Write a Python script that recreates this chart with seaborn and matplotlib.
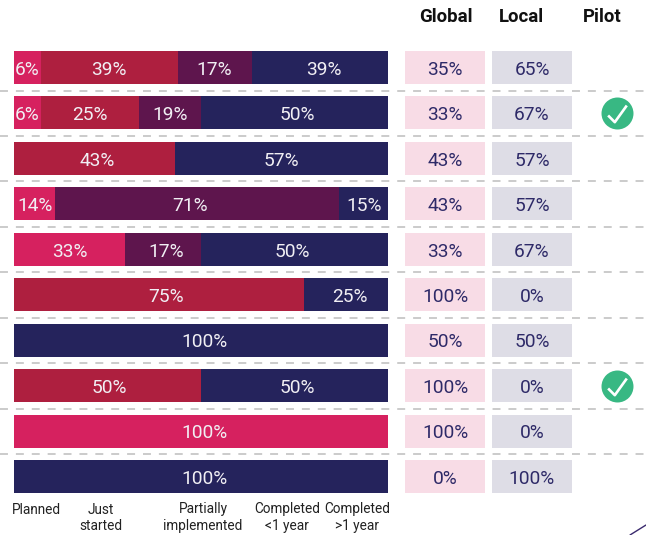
import numpy as np
import pandas as pd
import seaborn as sns
import matplotlib.pyplot as plt
from matplotlib.path import Path

sns.set_theme(style="white")
plt.rcParams["font.family"] = ["Roboto", "DejaVu Sans"]

rows = ["r1", "r2", "r3", "r4", "r5", "r6", "r7", "r8", "r9", "r10"]

# drawn bar lengths (the printed labels don't quite add up to these in the original)
planned = [7.2, 7.2, 0, 11, 29.7, 0, 0, 0, 100, 0]
just_started = [36.6, 26.2, 43, 0, 0, 77.5, 0, 50, 0, 0]
partially = [19.8, 16.6, 0, 76, 20.3, 0, 0, 0, 0, 0]
completed = [36.4, 50, 57, 13.4, 50, 22.5, 100, 50, 0, 100]

planned_lab = ["6%", "6%", "", "14%", "33%", "", "", "", "100%", ""]
just_started_lab = ["39%", "25%", "43%", "", "", "75%", "", "50%", "", ""]
partially_lab = ["17%", "19%", "", "71%", "17%", "", "", "", "", ""]
completed_lab = ["39%", "50%", "57%", "15%", "50%", "25%", "100%", "50%", "", "100%"]

global_lab = ["35%", "33%", "43%", "43%", "33%", "100%", "50%", "100%", "100%", "0%"]
local_lab = ["65%", "67%", "57%", "57%", "67%", "0%", "50%", "0%", "0%", "100%"]
pilot_rows = [1, 7]

stage_names = ["Planned", "Just\nstarted", "Partially\nimplemented", "Completed\n<1 year", "Completed\n>1 year"]
stage_x = [36.5, 101, 203, 287, 357]
headers = ["Global", "Local", "Pilot"]
header_x = [445.5, 521.7, 601.8]

W, H = 646, 535
ROW_TOP, ROW_BOTTOM = 51, 493
PAD = 0.363
BAR_W = 0.726
TEXT_DY = 0.05

# labels sit a little off centre in the original, in px: (row, stage) -> shift
NUDGE = {(0, "partial"): -1, (0, "done"): 4, (1, "done"): 2.5, (2, "just"): 2.5,
         (3, "partial"): -7, (4, "partial"): 3, (4, "done"): -2.5, (5, "just"): 7,
         (5, "done"): 4, (6, "done"): 3.5, (7, "just"): 1.5, (7, "done"): 2.5,
         (8, "planned"): 3.5, (9, "done"): 3.5}


def px_axes(x0, x1):
    a = fig.add_axes([x0 / W, 1 - ROW_BOTTOM / H, (x1 - x0) / W, (ROW_BOTTOM - ROW_TOP) / H])
    a.patch.set_alpha(0)
    return a


def finish(a, xlim):
    a.set_xlim(*xlim)
    a.set_ylim(9 + PAD, -PAD)
    a.axis("off")


fig = plt.figure(figsize=(W / 100, H / 100), dpi=100)

# stacked bars
df = pd.DataFrame({"row": rows, "planned": planned, "just": just_started,
                   "partial": partially, "done": completed})
ax = px_axes(14, 388)
stages = [("planned", "#D6215F", planned_lab), ("just", "#AE1F3F", just_started_lab),
          ("partial", "#5E154D", partially_lab), ("done", "#25235C", completed_lab)]
left = np.zeros(len(rows))
for col, colour, labs in stages:
    sns.barplot(data=df, y="row", x=col, order=rows, left=left, color=colour,
                saturation=1, width=BAR_W, linewidth=0, ax=ax)
    for i, lab in enumerate(labs):
        if lab:
            shift = NUDGE.get((i, col), 0) * 100 / 374
            ax.text(left[i] + df[col][i] / 2 + shift, i + TEXT_DY, lab, ha="center", va="center",
                    color="#F1EFF4", fontsize=13.8)
    left = left + df[col].values
finish(ax, (0, 100))

# global / local columns
for x0, x1, labs, fill in [(405, 485, global_lab, "#F8DCE6"), (492, 572, local_lab, "#DEDDE6")]:
    a = px_axes(x0, x1)
    sns.barplot(x=np.ones(len(rows)), y=rows, order=rows, color=fill, saturation=1,
                width=BAR_W, linewidth=0, ax=a)
    for i, lab in enumerate(labs):
        a.text(0.5, i + TEXT_DY, lab, ha="center", va="center", color="#2E2A68", fontsize=13.8)
    finish(a, (0, 1))

# pilot ticks
ax_p = px_axes(601, 633)
tick = Path([(-9.4, -2), (-2.7, -8.7), (9.3, 8)], [Path.MOVETO, Path.LINETO, Path.LINETO])
sns.scatterplot(x=[0.5] * len(pilot_rows), y=pilot_rows, s=530, color="#38B883", linewidth=0, ax=ax_p)
ax_p.plot([0.5] * len(pilot_rows), pilot_rows, ls="none", marker=tick, ms=13.5, mfc="none",
          mec="white", mew=1.9, clip_on=False)
finish(ax_p, (0, 1))

# dashed separators, headers, stage names
over = fig.add_axes([0, 0, 1, 1])
over.patch.set_alpha(0)
over.set_xlim(0, W)
over.set_ylim(H, 0)
over.axis("off")
step = (ROW_BOTTOM - ROW_TOP - 33) / 9
for i in range(9):
    y = ROW_TOP + 33 + 6.5 + i * step
    over.plot([0, W], [y, y], color="#BDBDBD", lw=1.1, dashes=(5.2, 5.2))

for name, x in zip(headers, header_x):
    over.text(x, 16.5, name, ha="center", va="center", fontsize=13.4, fontweight="bold", color="#111111")
for name, x in zip(stage_names, stage_x):
    over.text(x, 502.5, name, ha="center", va="top", fontsize=9.8, color="#222222", linespacing=1.26)

over.plot([630, 646], [535, 525], color="#3A2A6E", lw=1)

fig.savefig("out.png", dpi=100)
